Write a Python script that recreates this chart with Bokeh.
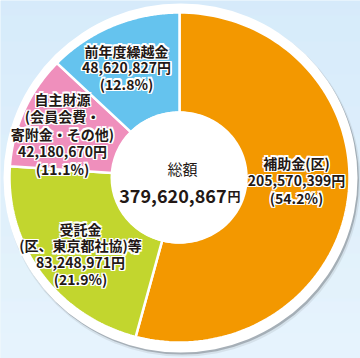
import numpy as np
from bokeh.plotting import figure
from bokeh.models import Range1d
from bokeh.embed import file_html
from bokeh.resources import INLINE
from bokeh.core.properties import value

# ---- data ----
categories = ["補助金(区)", "受託金\n(区、東京都社協)等", "自主財源\n(会員会費・\n寄附金・その他)", "前年度繰越金"]
amounts = [205570399, 83248971, 42180670, 48620827]
percents = ["54.2%", "21.9%", "11.1%", "12.8%"]
total_title = "総額"
total_amount = "379,620,867"
yen = "円"
colors = ["#f39800", "#c2d62e", "#ef8fbc", "#65c3ee"]

# ---- layout (pixel-like coordinates, y downwards) ----
W, H = 360, 358
cx, cy = 179, 177
rx, ry = 170, 165
irx, iry = 67, 65
label_pos = [(296, 162, 17.5), (80, 228, 16.8), (62, 98, 17.5), (126, 50, 16.5)]
FONT = value("Noto Sans CJK JP")
DARK = "#231815"

p = figure(width=W, height=H, x_range=Range1d(0, W), y_range=Range1d(H, 0),
           output_backend="svg", toolbar_location=None, min_border=0)
p.axis.visible = False
p.grid.visible = False
p.outline_line_color = None
p.background_fill_color = "#dcedfa"
p.border_fill_color = "#dcedfa"

# background gradient
rows = np.arange(H)
t = rows / (H - 1)
c_top = np.array([212, 234, 250])
c_bot = np.array([234, 246, 253])
bg_cols = ["#%02x%02x%02x" % tuple((c_top + (c_bot - c_top) * ti).round().astype(int)) for ti in t]
p.quad(left=0, right=W, top=rows, bottom=rows + 1, fill_color=bg_cols, line_color=None)

# shadow + white ring
p.ellipse(x=cx + 3, y=cy + 3.5, width=356, height=351, fill_color="#8a9096", fill_alpha=0.18, line_color=None)
p.ellipse(x=cx + 2.5, y=cy + 2.5, width=354, height=349, fill_color="#6d737a", fill_alpha=0.45, line_color=None)
p.ellipse(x=cx + 1, y=cy + 0.5, width=354, height=349, fill_color="white", line_color=None)

# slices (clockwise from 12 o'clock)
fr = np.array(amounts, dtype=float) / sum(amounts)
ends = np.cumsum(fr) * 2 * np.pi
starts = ends - fr * 2 * np.pi
xs, ys = [], []
for s, e in zip(starts, ends):
    th = np.linspace(s, e, 120)
    ox = cx + rx * np.sin(th)
    oy = cy - ry * np.cos(th)
    ix = cx + irx * np.sin(th[::-1])
    iy = cy - iry * np.cos(th[::-1])
    xs.append(list(np.concatenate([ox, ix])))
    ys.append(list(np.concatenate([oy, iy])))
p.patches(xs, ys, fill_color=colors, line_color="white", line_width=2.5)

# hole
p.ellipse(x=cx - 1, y=cy, width=2 * irx + 2, height=2 * iry + 2, fill_color="white", line_color=None)

# labels with white halo
lx, ly, lt = [], [], []
for cat, amt, pct, (x0, y0, dy) in zip(categories, amounts, percents, label_pos):
    lines = cat.split("\n") + [f"{amt:,}{yen}", f"({pct})"]
    for i, ln in enumerate(lines):
        lx.append(x0)
        ly.append(y0 + i * dy)
        lt.append(ln)

offs = [(dx, dy) for dx in (-1.3, 0, 1.3) for dy in (-1.3, 0, 1.3) if (dx, dy) != (0, 0)]
for dx, dy in offs:
    p.text(x=lx, y=ly, text=lt, x_offset=dx, y_offset=dy, text_color="white",
           text_font=FONT, text_font_size="14px", text_font_style="bold",
           text_align="center", text_baseline="middle")
p.text(x=lx, y=ly, text=lt, text_color=DARK, text_font=FONT, text_font_size="14px",
       text_font_style="bold", text_align="center", text_baseline="middle")

# centre total
p.text(x=[182], y=[167.5], text=[total_title], text_color=DARK, text_font=FONT,
       text_font_size="15px", text_align="center", text_baseline="middle")
p.text(x=[226], y=[195], text=[total_amount], text_color=DARK, text_font=FONT,
       text_font_size="18px", text_font_style="bold", text_align="right", text_baseline="alphabetic")
p.text(x=[227], y=[195], text=[yen], text_color=DARK, text_font=FONT,
       text_font_size="13px", text_font_style="bold", text_align="left", text_baseline="alphabetic")

open("out.html", "w").write(file_html(p, INLINE))
